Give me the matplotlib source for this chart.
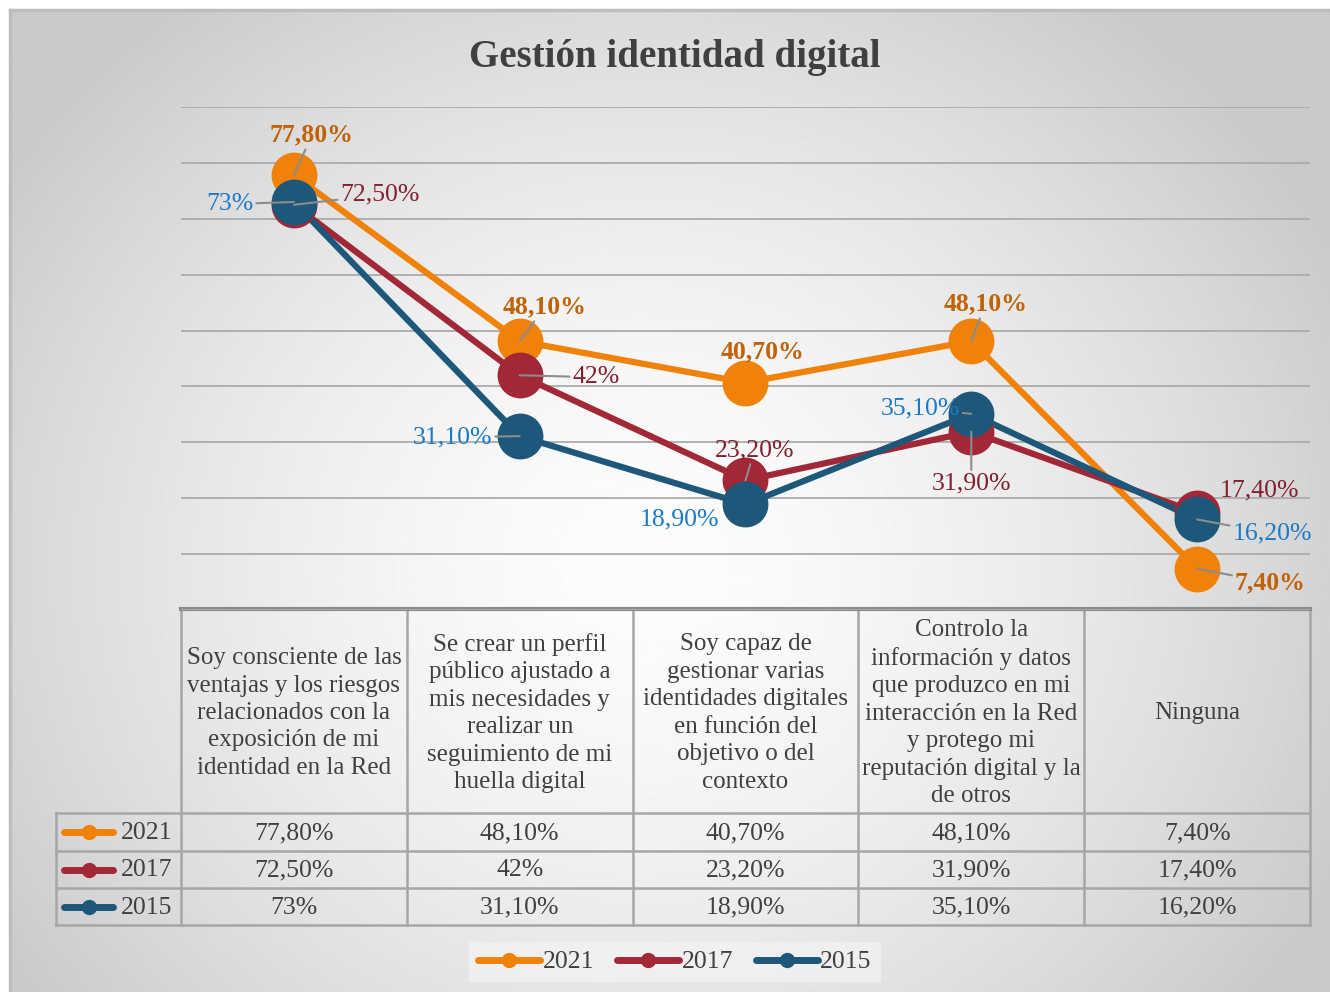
import numpy as np
import matplotlib.pyplot as plt
from matplotlib.lines import Line2D

plt.rcParams['font.family'] = ['Liberation Serif', 'DejaVu Serif']

# data
categories = [
    "Soy consciente de las\nventajas y los riesgos\nrelacionados con la\nexposición de mi\nidentidad en la Red",
    "Se crear un perfil\npúblico ajustado a\nmis necesidades y\nrealizar un\nseguimiento de mi\nhuella digital",
    "Soy capaz de\ngestionar varias\nidentidades digitales\nen función del\nobjetivo o del\ncontexto",
    "Controlo la\ninformación y datos\nque produzco en mi\ninteracción en la Red\ny protego mi\nreputación digital y la\nde otros",
    "Ninguna",
]
years = ["2021", "2017", "2015"]
v2021 = [77.8, 48.1, 40.7, 48.1, 7.4]
v2017 = [72.5, 42.0, 23.2, 31.9, 17.4]
v2015 = [73.0, 31.1, 18.9, 35.1, 16.2]
series = [v2021, v2017, v2015]

colors = ['#F0820A', '#A22737', '#1D5779']
label_colors = ['#BF6208', '#82202E', '#1B7AC6']

# label offsets in pixels (dx, dy) and whether a leader line is drawn
offsets = [
    [(18, 40), (25, 34), (17, 31), (14, 37), (73, -14)],
    [(86, 10), (76, -2), (9, 30), (0, -52), (62, 22)],
    [(-64, -2), (-67, -1), (-66, -15), (-51, 5), (75, -14)],
]
leaders = [
    [True, True, False, True, True],
    [True, True, True, True, False],
    [True, True, False, True, True],
]


def fmt(v):
    if v == int(v):
        return f"{int(v)}%"
    return f"{v:.2f}%".replace('.', ',')


W, H = 1330, 992
fig = plt.figure(figsize=(W / 100, H / 100), dpi=100)
fig.patch.set_facecolor('white')

# background axes in pixel coordinates
bg = fig.add_axes([0, 0, 1, 1])
bg.set_xlim(0, W)
bg.set_ylim(H, 0)
bg.axis('off')

yy, xx = np.mgrid[0:H, 0:W]
r = np.hypot((xx - 640) / 780, (yy - 560) / 720)
shade = 0.99 - 0.2 * np.clip(r, 0, 1.0) ** 1.6
bg.imshow(shade, cmap='gray', vmin=0, vmax=1, extent=(10, W, H, 10), aspect='auto', zorder=0)
bg.plot([10, W], [10, 10], color='#BDBDBD', lw=2.5, zorder=1)
bg.plot([10, 10], [10, H], color='#BDBDBD', lw=2.5, zorder=1)

fig.text(675 / W, 1 - 57 / H, "Gestión identidad digital", ha='center', va='center',
         fontsize=28, fontweight='bold', color='#404040')

# main plot
x0, x1, ytop, ybot = 181, 1310, 107, 610
ax = fig.add_axes([x0 / W, 1 - ybot / H, (x1 - x0) / W, (ybot - ytop) / H])
ax.patch.set_alpha(0)
ax.set_xlim(-0.5, 4.5)
ax.set_ylim(0, 90)
ax.set_yticks(np.arange(0, 91, 10))
ax.grid(axis='y', color='#ABABAB', lw=1.3)
ax.tick_params(left=False, bottom=False, labelleft=False, labelbottom=False)
for s in ax.spines.values():
    s.set_visible(False)

xs = np.arange(len(categories))
for i, vals in enumerate(series):
    ax.plot(xs, vals, color=colors[i], lw=4.5, zorder=2 + i * 0.1, solid_capstyle='round')
for i, vals in enumerate(series):
    ax.plot(xs, vals, ls='none', marker='o', ms=32, color=colors[i], zorder=3 + i * 0.1)

for i, vals in enumerate(series):
    for j, v in enumerate(vals):
        dx, dy = offsets[i][j]
        arrow = dict(arrowstyle='-', color='#8C8C8C', lw=1.5, shrinkA=0, shrinkB=0) if leaders[i][j] else None
        ax.annotate(fmt(v), (xs[j], v), xytext=(dx, dy), textcoords='offset pixels',
                    ha='center', va='center', fontsize=18.5, color=label_colors[i],
                    fontweight='bold' if i == 0 else 'normal',
                    arrowprops=arrow, zorder=6, annotation_clip=False)

# data table
tcol = '#A6A6A6'
txt = '#404040'
cw = (x1 - x0) / len(categories)
col_edges = [x0 + cw * k for k in range(len(categories) + 1)]
rows = [609, 813, 851, 888, 925]
lx = 56

for xe in col_edges:
    bg.plot([xe, xe], [rows[0], rows[-1]], color=tcol, lw=1.8, zorder=3)
bg.plot([lx, lx], [rows[1], rows[-1]], color=tcol, lw=1.8, zorder=3)
for yr in rows[1:]:
    bg.plot([lx, x1], [yr, yr], color=tcol, lw=1.8, zorder=3)
bg.plot([x0, x1], [rows[0], rows[0]], color='#8C8C8C', lw=3, zorder=3)

for j, cat in enumerate(categories):
    cx = x0 + cw * (j + 0.5)
    bg.text(cx, (rows[0] + rows[1]) / 2 + 2, cat, ha='center', va='center', fontsize=18,
            color=txt, linespacing=1.32, zorder=4)
    for i, vals in enumerate(series):
        cy = (rows[i + 1] + rows[i + 2]) / 2
        bg.text(cx, cy + 1, fmt(vals[j]), ha='center', va='center', fontsize=18.5, color=txt, zorder=4)

for i, yr in enumerate(years):
    cy = (rows[i + 1] + rows[i + 2]) / 2
    bg.plot([64, 113], [cy, cy], color=colors[i], lw=5, solid_capstyle='round', zorder=4)
    bg.plot([88.5], [cy], marker='o', ms=10, color=colors[i], zorder=5)
    bg.text(121, cy + 1, yr, ha='left', va='center', fontsize=18.5, color=txt, zorder=4)

# legend
handles = [Line2D([], [], color=c, lw=5, marker='o', ms=10, solid_capstyle='round') for c in colors]
leg = fig.legend(handles, years, loc='center', bbox_to_anchor=(675 / W, 1 - 962 / H), ncol=3,
                 fontsize=18.5, frameon=True, facecolor='#F3F3F3', edgecolor='none', framealpha=0.7,
                 fancybox=False, handlelength=2.4, handletextpad=0.1, columnspacing=0.9, borderpad=0.35)
for t in leg.get_texts():
    t.set_color(txt)

fig.savefig('out.png', dpi=100)
